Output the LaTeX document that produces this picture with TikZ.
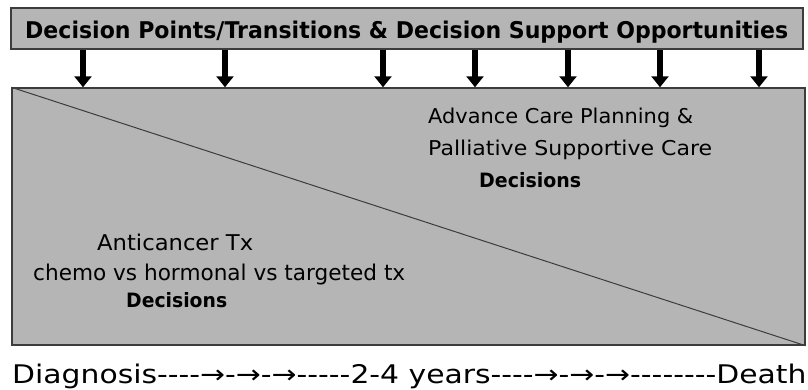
\documentclass[tikz,border=0pt]{standalone}
\usepackage{fontspec}
\setmainfont{DejaVu Sans}[Ligatures=TeXOff]
\usepackage{graphicx}
\usetikzlibrary{arrows.meta}
\definecolor{boxgray}{RGB}{181,181,181}
\definecolor{edgegray}{RGB}{60,60,60}
\newcommand{\fitwh}[3]{\resizebox{#1}{#2}{#3}}
\begin{document}
\begin{tikzpicture}[x=1pt,y=-1pt,
  panel/.style={draw=edgegray,line width=1.5pt,fill=boxgray,inner sep=0pt,rectangle},
  lbl/.style={inner sep=0pt,anchor=base west,text=black},
  downarrow/.style={line width=6.5pt,black,-{Triangle[width=17pt,length=11pt]}}]
\useasboundingbox (0,0) rectangle (808,389);
% panels
\node[panel,minimum width=792pt,minimum height=41pt] (title) at (407,28.5) {};
\node[panel,minimum width=793pt,minimum height=257pt] (box) at (408.5,216.5) {};
\draw[line width=1pt,edgegray] (box.north west) -- (box.south east);
% title text
\node[lbl] (ttl) at (25,38) {\fitwh{763pt}{17.5pt}{\bfseries Decision Points/Transitions \& Decision Support Opportunities}};
% arrows
\foreach \i/\xx in {1/83,2/225,3/383,4/475,5/568,6/660,7/759}{
  \coordinate (a\i) at (\xx,0);
  \draw[downarrow] (title.south -| a\i) -- (box.north -| a\i);
}
% texts in box
\node[lbl] (acp1) at (428,123) {\fitwh{265pt}{15.5pt}{Advance Care Planning \&}};
\node[lbl] (acp2) at (428,155) {\fitwh{284pt}{15.5pt}{Palliative Supportive Care}};
\node[lbl] (acp3) at (479,187) {\fitwh{102pt}{15pt}{\bfseries Decisions}};
\node[lbl] (ac1) at (97,250) {\fitwh{156pt}{16.5pt}{Anticancer Tx}};
\node[lbl] (ac2) at (33,280) {\fitwh{372pt}{16.5pt}{chemo vs hormonal vs targeted tx}};
\node[lbl] (ac3) at (126,307) {\fitwh{101pt}{15pt}{\bfseries Decisions}};
% timeline
\node[lbl] (tl) at (12,383) {\fitwh{794pt}{19.5pt}{Diagnosis----→-→-→-----2-4 years----→-→-→--------Death}};
\end{tikzpicture}
\end{document}
